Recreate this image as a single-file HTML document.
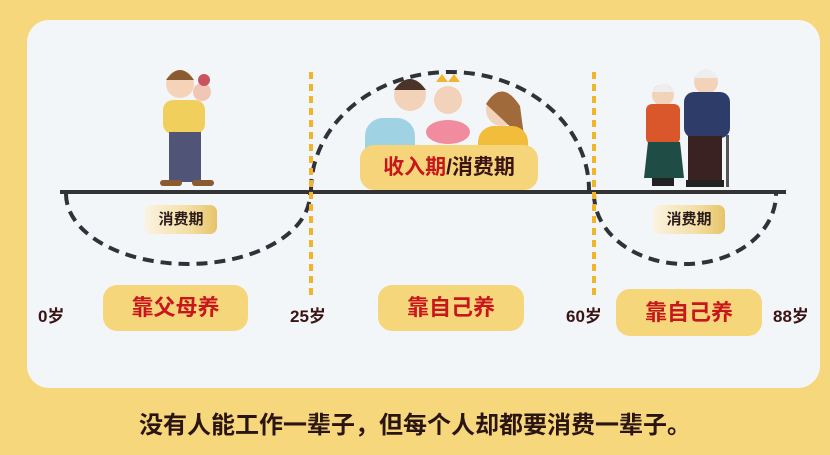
<!DOCTYPE html>
<html><head><meta charset="utf-8"><style>
body{margin:0;width:830px;height:455px;background:#f6d77b;position:relative;overflow:hidden;font-family:"Liberation Sans","Noto Sans CJK SC",sans-serif;}
.card{position:absolute;left:27px;top:20px;width:793px;height:368px;background:#f3f6f8;border-radius:22px;}
.pill{position:absolute;background:#f6d67a;border-radius:14px;color:#c8161d;font-weight:bold;font-size:22px;text-align:center;}
.sm{position:absolute;border-radius:7px;background:linear-gradient(90deg,#fbf3e0,#f3dfa6 60%,#e6c468);font-size:15px;font-weight:bold;color:#2a1a1a;text-align:center;line-height:29px;height:29px;}
.age{position:absolute;font-weight:bold;font-size:17px;color:#3a1414;}
</style></head><body>
<div class="card"></div>
<svg width="830" height="455" style="position:absolute;left:0;top:0">
<g>
<circle cx="180" cy="84" r="14" fill="#f4d3b8"/><path d="M166 80 q14 -20 28 0 z" fill="#8a5a30"/>
<circle cx="202" cy="92" r="9" fill="#f2c6b4"/><circle cx="204" cy="80" r="6" fill="#c9535e"/>
<rect x="163" y="100" width="42" height="34" rx="10" fill="#f1cf5c"/>
<rect x="169" y="132" width="32" height="50" fill="#505577"/>
<rect x="160" y="180" width="22" height="6" rx="3" fill="#8a5a30"/><rect x="192" y="180" width="22" height="6" rx="3" fill="#8a5a30"/>
</g>
<g>
<rect x="365" y="118" width="50" height="60" rx="18" fill="#9fd3e4"/><circle cx="410" cy="95" r="16" fill="#f3d2ba"/><path d="M394 90 q16 -22 32 0 z" fill="#4a3329"/>
<circle cx="448" cy="100" r="14" fill="#f3d2ba"/><path d="M436 82 l6 -8 6 8 6 -8 6 8z" fill="#f1b52e"/>
<ellipse cx="448" cy="132" rx="22" ry="12" fill="#f08c9e"/>
<circle cx="502" cy="110" r="16" fill="#f3d2ba"/><path d="M486 104 q16 -26 34 2 l4 30 -8 -4z" fill="#a06a3a"/>
<rect x="478" y="126" width="50" height="40" rx="16" fill="#f3bd3c"/>
</g>
<g>
<circle cx="663" cy="95" r="11" fill="#f3d2ba"/><path d="M652 92 q11 -16 22 0" fill="#eee"/>
<rect x="646" y="104" width="34" height="40" rx="6" fill="#d9572a"/>
<path d="M648 142 h32 l4 36 h-40z" fill="#1f4d45"/><rect x="652" y="178" width="22" height="8" fill="#222"/>
<circle cx="706" cy="82" r="12" fill="#f3d2ba"/><path d="M693 78 q13 -18 26 0" fill="#eee"/>
<rect x="684" y="92" width="46" height="46" rx="10" fill="#2e3c6a"/>
<rect x="688" y="136" width="34" height="44" fill="#3a2222"/><rect x="686" y="180" width="38" height="7" fill="#222"/>
<rect x="726" y="135" width="3" height="52" fill="#555"/>
</g>
<g fill="none" stroke="#2f3338" stroke-width="4" stroke-dasharray="11 7">
<path d="M66 194 A122 70 0 0 0 310 194"/>
<path d="M311 190 A139 118 0 0 1 589 190"/>
<path d="M594 194 A91 70 0 0 0 776 194"/>
</g>
<line x1="60" y1="192" x2="786" y2="192" stroke="#333" stroke-width="4"/>
<g stroke="#f2b42a" stroke-width="4" stroke-dasharray="7 5">
<line x1="311" y1="72" x2="311" y2="295"/><line x1="594" y1="72" x2="594" y2="295"/>
</g>
</svg>
<div class="pill" style="left:360px;top:145px;width:178px;height:45px;line-height:45px;font-size:21px;background:#f6d57a"><span style="color:#c8161d">收入期</span><span style="color:#3a1414">/消费期</span></div>
<div class="sm" style="left:145px;top:205px;width:72px">消费期</div>
<div class="sm" style="left:653px;top:205px;width:72px">消费期</div>
<div class="pill" style="left:103px;top:285px;width:145px;height:46px;line-height:46px">靠父母养</div>
<div class="pill" style="left:378px;top:285px;width:146px;height:46px;line-height:46px">靠自己养</div>
<div class="pill" style="left:616px;top:289px;width:146px;height:47px;line-height:47px">靠自己养</div>
<div class="age" style="left:38px;top:302px">0岁</div>
<div class="age" style="left:290px;top:302px">25岁</div>
<div class="age" style="left:566px;top:302px">60岁</div>
<div class="age" style="left:773px;top:302px">88岁</div>
<div style="position:absolute;left:0;width:830px;top:405px;text-align:center;font-size:24px;font-weight:bold;color:#2a1414">没有人能工作一辈子，但每个人却都要消费一辈子。</div>
</body></html>
